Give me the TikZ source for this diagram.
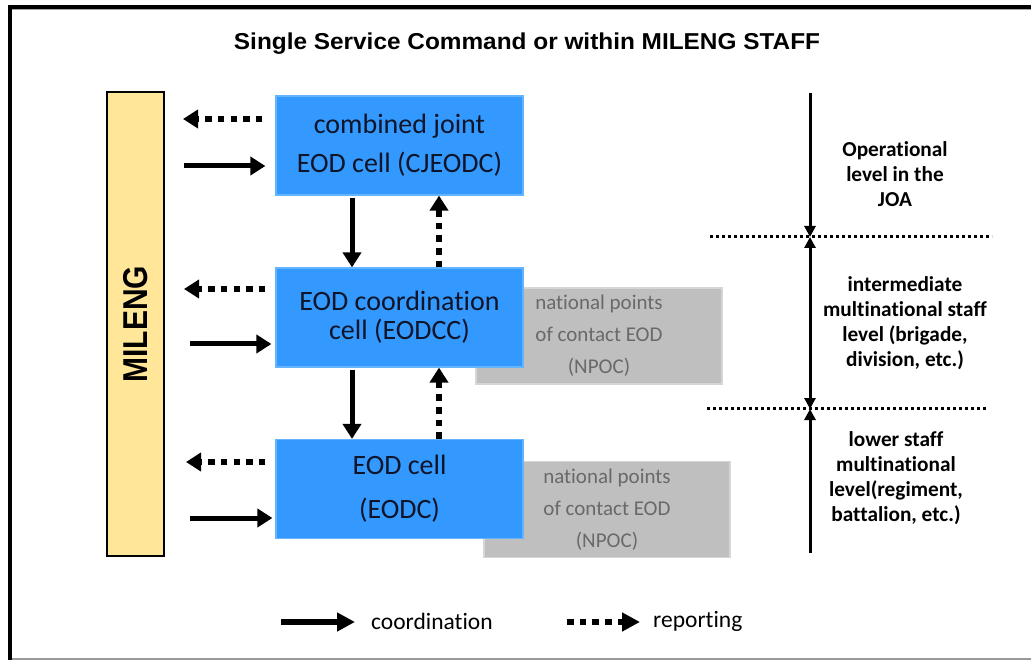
\documentclass[tikz,border=0pt]{standalone}
\usepackage{fontspec}
\setmainfont[Ligatures=NoCommon]{Carlito}
\newfontfamily\arialf{Liberation Sans}
\usetikzlibrary{arrows.meta,calc}
\definecolor{boxblue}{RGB}{51,153,255}
\definecolor{boxedge}{RGB}{100,180,255}
\definecolor{npocfill}{RGB}{191,191,191}
\definecolor{npocedge}{RGB}{214,214,214}
\definecolor{npoctext}{RGB}{105,105,105}
\definecolor{milfill}{RGB}{255,230,153}
\definecolor{boxtext}{RGB}{15,20,40}
\begin{document}
\begin{tikzpicture}[x=1pt,y=-1pt,
  bluebox/.style={fill=boxblue,draw=boxedge,line width=1.2pt,minimum width=247pt,minimum height=99pt,inner sep=0pt,align=center,text=boxtext},
  npocbox/.style={fill=npocfill,draw=npocedge,line width=1.2pt,minimum width=246pt,minimum height=96pt,inner sep=0pt,align=center,text=npoctext,font=\fontsize{21}{32}\selectfont},
  coordarrow/.style={line width=5pt,-{Triangle[length=15pt,width=18pt]}},
  reparrow/.style={line width=6pt,dash pattern=on 6.5pt off 6.2pt,-{Triangle[length=15pt,width=18pt]}},
  levelarrow/.style={line width=3pt},
  levelline/.style={line width=3pt,dash pattern=on 3pt off 3pt},
  levellabel/.style={align=center,inner sep=0pt,font=\bfseries\fontsize{21.3}{25}\selectfont},
  legtext/.style={anchor=west,inner sep=0pt,font=\fontsize{23.5}{28}\selectfont}
]
\useasboundingbox (0,0) rectangle (1031,660);
% frame
\draw[line width=4pt] (10,660) -- (10,7) -- (1031,7);
\draw[gray!70,line width=1pt] (12,10) -- (1031,10);
\draw[gray!80,line width=2pt] (12,659) -- (1031,659);
% title
\node[inner sep=0pt,font=\arialf\bfseries\fontsize{23}{28}\selectfont] (title) at (527,44) {\scalebox{1.06}[1]{Single Service Command or within MILENG STAFF}};
% MILENG bar
\node[fill=milfill,draw=black,line width=2pt,minimum width=57pt,minimum height=464pt,inner sep=0pt] (mil) at (135.5,324) {};
\node[rotate=90,inner sep=0pt,font=\arialf\bfseries\fontsize{30}{36}\selectfont] (miltext) at (mil.center) {\scalebox{1}[1.15]{MILENG}};
% NPOC boxes
\node[npocbox] (np1) at (599,336) {national points\\of contact EOD\\(NPOC)};
\node[npocbox] (np2) at (607,509.5) {national points\\of contact EOD\\(NPOC)};
% blue boxes
\node[bluebox,font=\fontsize{28}{39}\selectfont] (cj) at (399.5,145.5) {combined joint\\EOD cell (CJEODC)};
\node[bluebox,font=\fontsize{28}{29}\selectfont] (ec) at (399.5,317.5) {EOD coordination\\cell (EODCC)};
\node[bluebox,font=\fontsize{28}{44}\selectfont] (eo) at (399.5,489) {EOD cell\\(EODC)};
% columns
\coordinate (xs) at (352,0);
\coordinate (xd) at (439,0);
% horizontal arrows to/from MILENG
\coordinate (y1d) at (0,119);  \coordinate (y1s) at (0,166);
\coordinate (y2d) at (0,289);  \coordinate (y2s) at (0,344);
\coordinate (y3d) at (0,462);  \coordinate (y3s) at (0,518);
\draw[reparrow,shorten <=13pt,shorten >=18pt] (cj.west |- y1d) -- (mil.east |- y1d);
\draw[coordarrow,shorten <=19pt,shorten >=10pt] (mil.east |- y1s) -- (cj.west |- y1s);
\draw[reparrow,shorten <=10pt,shorten >=19pt] (ec.west |- y2d) -- (mil.east |- y2d);
\draw[coordarrow,shorten <=25pt,shorten >=4pt] (mil.east |- y2s) -- (ec.west |- y2s);
\draw[reparrow,shorten <=10pt,shorten >=21pt] (eo.west |- y3d) -- (mil.east |- y3d);
\draw[coordarrow,shorten <=25pt,shorten >=3pt] (mil.east |- y3s) -- (eo.west |- y3s);
% vertical arrows
\draw[coordarrow,shorten <=2pt] (cj.south -| xs) -- (ec.north -| xs);
\draw[reparrow] (ec.north -| xd) -- (cj.south -| xd);
\draw[coordarrow,shorten <=2pt] (ec.south -| xs) -- (eo.north -| xs);
\draw[reparrow] (eo.north -| xd) -- (ec.south -| xd);
% level scale
\coordinate (t0) at (810,93);
\coordinate (t1) at (810,237);
\coordinate (t2) at (810,409);
\coordinate (t3) at (810,553);
\coordinate (d1a) at (710,237); \coordinate (d1b) at (992,237);
\coordinate (d2a) at (707,408); \coordinate (d2b) at (988,408);
\draw[levelline] (d1a) -- (d1b);
\draw[levelline] (d2a) -- (d2b);
\draw[levelarrow,-{Triangle[length=11pt,width=11pt]}] (t0) -- (t1);
\draw[levelarrow,{Triangle[length=11pt,width=11pt]}-{Triangle[length=11pt,width=11pt]}] (t1) -- (t2);
\draw[levelarrow,{Triangle[length=11pt,width=11pt]}-] (t2) -- (t3);
\node[levellabel] (lab1) at (895,174) {Operational\\level in the\\JOA};
\node[levellabel] (lab2) at (905,323) {intermediate\\multinational staff\\level (brigade,\\division, etc.)};
\node[levellabel] (lab3) at (896,478) {lower staff\\multinational\\level(regiment,\\battalion, etc.)};
% legend
\node[legtext] (lc) at (371,621) {coordination};
\node[legtext] (lr) at (653,621) {reporting};
\coordinate (la) at (281,622);
\coordinate (lb) at (567,622);
\draw[line width=6.5pt,-{Triangle[length=18pt,width=18pt]},shorten >=16pt] (la) -- (lc.west |- la);
\draw[line width=6.5pt,dash pattern=on 6.7pt off 6pt,-{Triangle[length=18pt,width=18pt]},shorten >=13pt] (lb) -- (lr.west |- lb);
\end{tikzpicture}
\end{document}
